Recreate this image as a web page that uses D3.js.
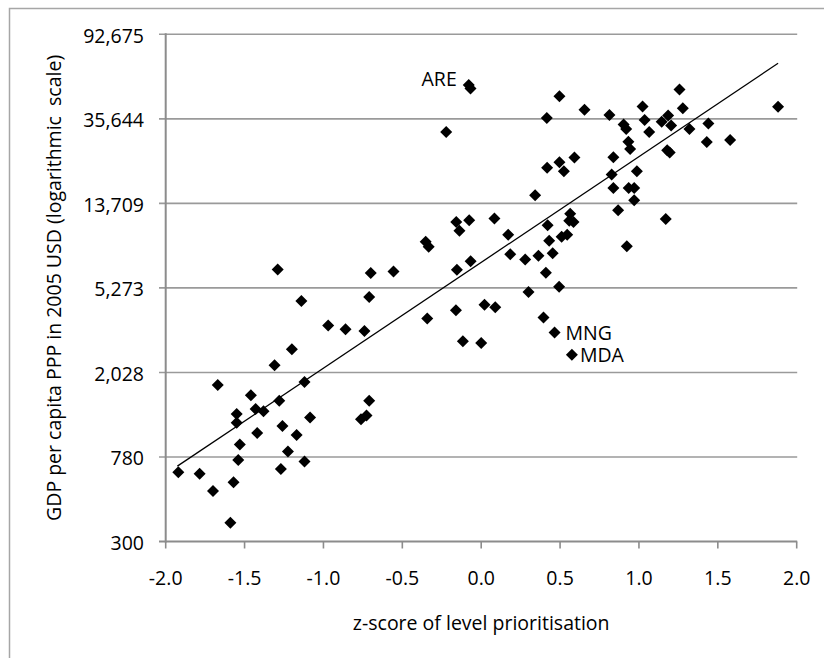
<!DOCTYPE html>
<html>
<head>
<meta charset="utf-8">
<script src="https://cdn.jsdelivr.net/npm/d3@7"></script>
<style>
  html, body { margin: 0; padding: 0; background: #fff; }
  svg text { font-family: "Open Sans", sans-serif; fill: #000; }
</style>
</head>
<body>
<svg id="chart" width="824" height="658"></svg>
<script>
// z-score of level prioritisation for each country
const zScore = [
  -1.29, -0.70, -0.71, -1.14, -0.97, -0.86, -0.74, -1.20, -1.31, -1.67,
  -1.12, -1.46, -1.28, -0.71, -1.55, -1.43, -1.38, -1.55, -1.085, -0.727,
  -0.762, -1.26, -1.42, -1.17, -1.53, -1.225, -1.54, -1.12, -1.92, -1.785,
  -1.27, -1.57, -1.70, -1.59, -0.556, -0.079, -0.068, -0.222, 0.496, 0.655,
  0.416, 0.813, 0.903, 0.919, 1.023, 1.036, 1.065, 1.144, 1.185, 1.204,
  1.257, 1.278, 1.320, 1.440, 1.430, 1.578, 1.179, 1.195, 1.882, 0.933,
  0.944, 0.838, 0.827, 0.987, 0.838, 0.935, 0.970, 0.970, 0.868, 0.923,
  1.170, 0.342, 0.418, 0.496, 0.524, 0.591, 0.564, 0.558, 0.585, 0.510,
  0.545, 0.421, 0.431, 0.453, 0.363, 0.279, 0.410, 0.494, 0.300, 0.171,
  0.184, 0.084, -0.076, -0.158, -0.138, -0.352, -0.333, -0.067, -0.154, 0.021,
  0.089, -0.160, -0.342, 0.395, 0.465, 0.575, -0.116, 0.000
];

// GDP per capita PPP in 2005 USD, same order as zScore
const gdp = [
  6490, 6245, 4760, 4549, 3444, 3302, 3239, 2633, 2197, 1759,
  1819, 1565, 1474, 1474, 1269, 1340, 1306, 1149, 1217, 1245,
  1195, 1106, 1022, 1001, 897, 829, 753, 740, 657, 645,
  681, 586, 531, 371, 6345, 52220, 50200, 30680, 45950, 39480,
  35940, 37180, 33400, 31740, 40940, 35140, 30680, 34470, 36970, 33030,
  49630, 40120, 31740, 33860, 27400, 28020, 25020, 24330, 40850, 27490,
  25310, 23120, 19010, 19730, 16330, 16330, 16330, 14210, 12690, 8447,
  11500, 15040, 20530, 21850, 19730, 23040, 12200, 11270, 11120, 9404,
  9620, 10710, 8988, 7805, 7586, 7265, 6259, 5342, 5036, 9620,
  7717, 11560, 11330, 11120, 10060, 8887, 8400, 7129, 6475, 4358,
  4236, 4095, 3727, 3770, 3181, 2475, 2884, 2829
];

// Named outliers
const labelCode = ["ARE", "MNG", "MDA"];
const labelZ    = [-0.079, 0.465, 0.575];
const labelGdp  = [52220, 3181, 2475];

// Fitted exponential trend (straight on the log axis)
const trendZ   = [-1.926, 1.882];
const trendGdp = [703, 66800];

// Axis ticks
const xTicks = [-2.0, -1.5, -1.0, -0.5, 0.0, 0.5, 1.0, 1.5, 2.0];
const yTicks = [300, 780, 2028, 5273, 13709, 35644, 92675];

const svg = d3.select("#chart");

const x = d3.scaleLinear().domain([-2, 2]).range([165.7, 796.7]);
const y = d3.scaleLog().domain([300, 92675]).range([541.5, 34.3]);

// outer chart frame (left and top edges visible)
svg.append("path")
  .attr("d", "M9.5,658 V8.5 H824")
  .attr("fill", "none")
  .attr("stroke", "#a6a6a6")
  .attr("stroke-width", 1.5);

// horizontal gridlines with outward tick stubs
svg.append("g").selectAll("line").data(yTicks.slice(1)).join("line")
  .attr("x1", 159).attr("x2", x(2) + 0.5)
  .attr("y1", d => y(d)).attr("y2", d => y(d))
  .attr("stroke", "#9a9a9a").attr("stroke-width", 1.6);

// y axis
svg.append("line")
  .attr("x1", x(-2)).attr("x2", x(-2))
  .attr("y1", y(92675) - 1).attr("y2", y(300) + 1)
  .attr("stroke", "#8c8c8c").attr("stroke-width", 2);
svg.append("line")
  .attr("x1", 159).attr("x2", x(-2))
  .attr("y1", y(300)).attr("y2", y(300))
  .attr("stroke", "#8c8c8c").attr("stroke-width", 2);

// x axis
svg.append("line")
  .attr("x1", x(-2)).attr("x2", x(2) + 0.5)
  .attr("y1", y(300)).attr("y2", y(300))
  .attr("stroke", "#8c8c8c").attr("stroke-width", 2);
svg.append("g").selectAll("line").data(xTicks).join("line")
  .attr("x1", d => x(d)).attr("x2", d => x(d))
  .attr("y1", y(300)).attr("y2", y(300) + 7)
  .attr("stroke", "#8c8c8c").attr("stroke-width", 1.6);

// tick labels
svg.append("g").selectAll("text").data(yTicks).join("text")
  .attr("x", 144).attr("y", d => y(d) + 8.5)
  .attr("text-anchor", "end")
  .style("font-size", "19.5px")
  .text(d => d3.format(",")(d));

const fmtX = d => d3.format(".1f")(d).replace("\u2212", "-");
svg.append("g").selectAll("text").data(xTicks).join("text")
  .attr("x", d => x(d)).attr("y", 585)
  .attr("text-anchor", "middle")
  .style("font-size", "19.5px")
  .text(fmtX);

// axis titles
svg.append("text")
  .attr("x", (x(-2) + x(2)) / 2).attr("y", 630)
  .attr("text-anchor", "middle")
  .style("font-size", "19.5px")
  .text("z-score of level prioritisation");

svg.append("text")
  .attr("transform", `translate(61,${(y(300) + y(92675)) / 2}) rotate(-90)`)
  .attr("text-anchor", "middle")
  .style("font-size", "19.5px")
  .style("white-space", "pre")
  .text("GDP per capita PPP in 2005 USD (logarithmic  scale)");

// trend line
svg.append("path")
  .datum(trendZ.map((z, i) => [z, trendGdp[i]]))
  .attr("d", d3.line().x(d => x(d[0])).y(d => y(d[1])))
  .attr("fill", "none")
  .attr("stroke", "#000")
  .attr("stroke-width", 1.3);

// country markers (black diamonds)
const diamond = d3.symbol().type(d3.symbolSquare).size(72);
svg.append("g").selectAll("path").data(zScore.map((z, i) => [z, gdp[i]])).join("path")
  .attr("transform", d => `translate(${x(d[0])},${y(d[1])}) rotate(45)`)
  .attr("d", diamond)
  .attr("fill", "#000");

// outlier labels
const labelPos = { ARE: [-12, 1, "end"], MNG: [11, 7.5, "start"], MDA: [8, 7, "start"] };
svg.append("g").selectAll("text").data(labelCode).join("text")
  .attr("x", (c, i) => x(labelZ[i]) + labelPos[c][0])
  .attr("y", (c, i) => y(labelGdp[i]) + labelPos[c][1])
  .attr("text-anchor", c => labelPos[c][2])
  .style("font-size", "19.5px")
  .text(c => c);
</script>
</body>
</html>
